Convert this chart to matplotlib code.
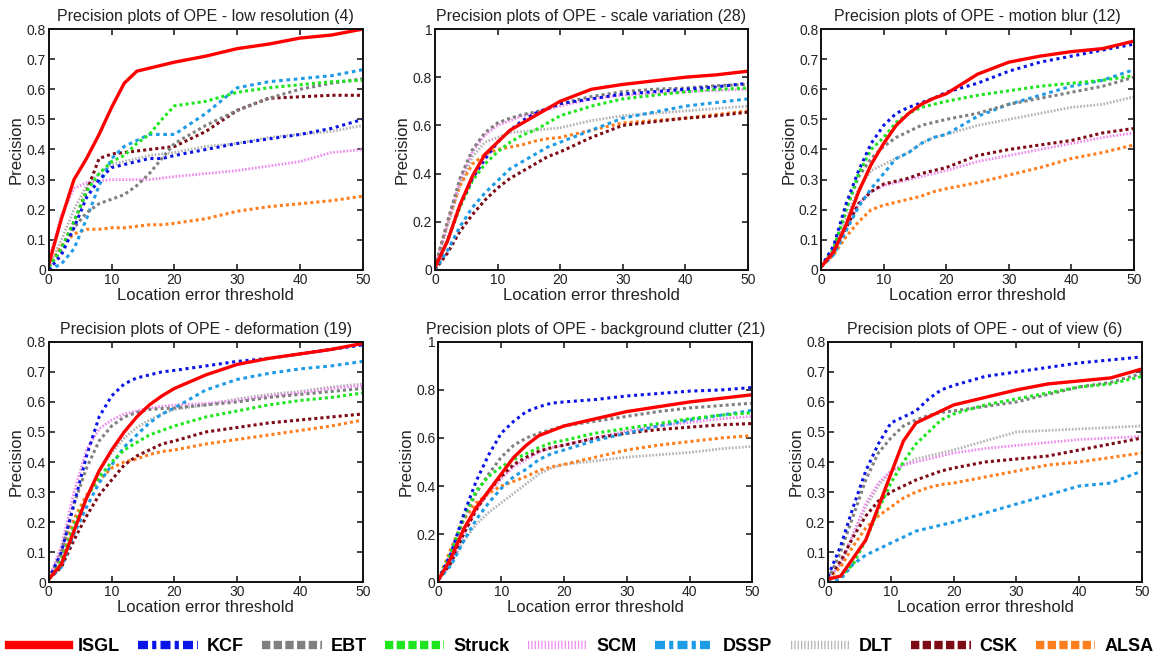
import matplotlib
matplotlib.use("Agg")
import matplotlib.pyplot as plt
from matplotlib.lines import Line2D
from matplotlib.ticker import FuncFormatter

plt.rcParams['font.family'] = ['Liberation Sans', 'DejaVu Sans']

# umbrales de error (eje x comun)
X = [0, 2, 4, 6, 8, 10, 12, 14, 16, 18, 20, 25, 30, 35, 40, 45, 50]

trackers = ['ISGL', 'KCF', 'EBT', 'Struck', 'SCM', 'DSSP', 'DLT', 'CSK', 'ALSA']
colors = ['#ff0000', '#0a14e6', '#808080', '#1ee61e', '#f08cf0',
          '#1e9be6', '#b4b4b4', '#7d0a14', '#ff7f1e']

titles = ['Precision plots of OPE - low resolution (4)',
          'Precision plots of OPE - scale variation (28)',
          'Precision plots of OPE - motion blur (12)',
          'Precision plots of OPE - deformation (19)',
          'Precision plots of OPE - background clutter (21)',
          'Precision plots of OPE - out of view (6)']
ymax = [0.8, 1.0, 0.8, 0.8, 1.0, 0.8]

# low resolution
low_res = {
    'ISGL':   [0.02, 0.17, 0.30, 0.37, 0.45, 0.54, 0.62, 0.66, 0.67, 0.68, 0.69, 0.71, 0.735, 0.75, 0.77, 0.78, 0.80],
    'KCF':    [0.0, 0.05, 0.14, 0.24, 0.30, 0.34, 0.35, 0.36, 0.37, 0.37, 0.38, 0.40, 0.42, 0.435, 0.45, 0.47, 0.50],
    'EBT':    [0.01, 0.07, 0.14, 0.19, 0.22, 0.235, 0.25, 0.28, 0.32, 0.37, 0.42, 0.48, 0.53, 0.57, 0.60, 0.62, 0.635],
    'Struck': [0.01, 0.07, 0.16, 0.26, 0.32, 0.36, 0.38, 0.42, 0.45, 0.50, 0.545, 0.56, 0.59, 0.605, 0.615, 0.625, 0.63],
    'SCM':    [0.03, 0.18, 0.27, 0.29, 0.295, 0.30, 0.30, 0.30, 0.30, 0.305, 0.31, 0.32, 0.33, 0.345, 0.36, 0.39, 0.40],
    'DSSP':   [0.0, 0.02, 0.07, 0.17, 0.28, 0.37, 0.41, 0.43, 0.45, 0.45, 0.45, 0.52, 0.605, 0.625, 0.635, 0.645, 0.665],
    'DLT':    [0.01, 0.10, 0.20, 0.28, 0.32, 0.35, 0.36, 0.37, 0.38, 0.385, 0.39, 0.41, 0.42, 0.44, 0.45, 0.46, 0.48],
    'CSK':    [0.01, 0.07, 0.16, 0.26, 0.37, 0.385, 0.39, 0.395, 0.40, 0.405, 0.41, 0.46, 0.53, 0.57, 0.575, 0.58, 0.58],
    'ALSA':   [0.01, 0.08, 0.12, 0.135, 0.135, 0.14, 0.14, 0.145, 0.15, 0.15, 0.155, 0.17, 0.195, 0.21, 0.22, 0.23, 0.245],
}

# scale variation
scale_var = {
    'ISGL':   [0.01, 0.12, 0.27, 0.39, 0.48, 0.53, 0.58, 0.61, 0.64, 0.67, 0.70, 0.75, 0.77, 0.785, 0.80, 0.81, 0.825],
    'KCF':    [0.01, 0.12, 0.27, 0.38, 0.46, 0.53, 0.58, 0.62, 0.65, 0.67, 0.69, 0.71, 0.73, 0.74, 0.75, 0.76, 0.775],
    'EBT':    [0.01, 0.20, 0.38, 0.50, 0.57, 0.61, 0.63, 0.645, 0.655, 0.67, 0.69, 0.72, 0.74, 0.75, 0.755, 0.765, 0.77],
    'Struck': [0.01, 0.12, 0.26, 0.37, 0.44, 0.49, 0.53, 0.56, 0.58, 0.61, 0.64, 0.68, 0.71, 0.725, 0.74, 0.75, 0.755],
    'SCM':    [0.01, 0.19, 0.37, 0.49, 0.56, 0.60, 0.62, 0.64, 0.65, 0.665, 0.68, 0.71, 0.725, 0.735, 0.74, 0.745, 0.75],
    'DSSP':   [0.0, 0.08, 0.18, 0.26, 0.32, 0.37, 0.42, 0.45, 0.48, 0.51, 0.53, 0.58, 0.63, 0.655, 0.68, 0.695, 0.71],
    'DLT':    [0.01, 0.18, 0.35, 0.47, 0.53, 0.55, 0.57, 0.575, 0.58, 0.585, 0.59, 0.62, 0.64, 0.65, 0.66, 0.67, 0.68],
    'CSK':    [0.0, 0.07, 0.16, 0.23, 0.29, 0.34, 0.38, 0.41, 0.44, 0.47, 0.49, 0.55, 0.60, 0.615, 0.63, 0.64, 0.655],
    'ALSA':   [0.01, 0.20, 0.35, 0.44, 0.48, 0.50, 0.51, 0.52, 0.535, 0.545, 0.55, 0.58, 0.61, 0.62, 0.63, 0.645, 0.66],
}

# motion blur
motion_blur = {
    'ISGL':   [0.01, 0.06, 0.15, 0.26, 0.35, 0.42, 0.48, 0.52, 0.55, 0.57, 0.585, 0.65, 0.69, 0.71, 0.725, 0.735, 0.76],
    'KCF':    [0.01, 0.08, 0.22, 0.33, 0.42, 0.48, 0.52, 0.54, 0.555, 0.57, 0.59, 0.62, 0.66, 0.69, 0.71, 0.73, 0.75],
    'EBT':    [0.01, 0.07, 0.20, 0.31, 0.37, 0.41, 0.44, 0.46, 0.48, 0.49, 0.50, 0.52, 0.55, 0.57, 0.59, 0.61, 0.64],
    'Struck': [0.01, 0.07, 0.20, 0.32, 0.40, 0.44, 0.49, 0.52, 0.54, 0.55, 0.56, 0.58, 0.595, 0.61, 0.62, 0.63, 0.645],
    'SCM':    [0.01, 0.06, 0.14, 0.22, 0.26, 0.28, 0.29, 0.30, 0.31, 0.32, 0.33, 0.36, 0.38, 0.40, 0.42, 0.44, 0.455],
    'DSSP':   [0.01, 0.05, 0.13, 0.21, 0.27, 0.32, 0.37, 0.39, 0.42, 0.44, 0.45, 0.51, 0.55, 0.58, 0.61, 0.63, 0.665],
    'DLT':    [0.01, 0.07, 0.17, 0.27, 0.33, 0.35, 0.37, 0.39, 0.42, 0.44, 0.45, 0.48, 0.50, 0.52, 0.54, 0.55, 0.575],
    'CSK':    [0.01, 0.06, 0.14, 0.22, 0.26, 0.285, 0.295, 0.305, 0.32, 0.33, 0.34, 0.38, 0.40, 0.415, 0.43, 0.455, 0.47],
    'ALSA':   [0.01, 0.05, 0.11, 0.16, 0.20, 0.215, 0.225, 0.235, 0.245, 0.26, 0.27, 0.29, 0.315, 0.34, 0.37, 0.39, 0.415],
}

# deformation
deformation = {
    'ISGL':   [0.01, 0.06, 0.17, 0.28, 0.37, 0.44, 0.50, 0.55, 0.59, 0.62, 0.645, 0.69, 0.725, 0.745, 0.76, 0.775, 0.795],
    'KCF':    [0.01, 0.10, 0.26, 0.42, 0.55, 0.62, 0.66, 0.68, 0.69, 0.70, 0.705, 0.72, 0.735, 0.745, 0.76, 0.775, 0.79],
    'EBT':    [0.01, 0.10, 0.26, 0.38, 0.47, 0.52, 0.55, 0.565, 0.575, 0.578, 0.58, 0.59, 0.60, 0.615, 0.625, 0.635, 0.645],
    'Struck': [0.01, 0.07, 0.19, 0.28, 0.35, 0.40, 0.44, 0.465, 0.49, 0.505, 0.52, 0.55, 0.57, 0.59, 0.605, 0.615, 0.63],
    'SCM':    [0.01, 0.12, 0.30, 0.44, 0.51, 0.54, 0.56, 0.57, 0.58, 0.585, 0.59, 0.595, 0.605, 0.62, 0.63, 0.645, 0.655],
    'DSSP':   [0.01, 0.05, 0.16, 0.25, 0.33, 0.39, 0.45, 0.49, 0.53, 0.56, 0.58, 0.64, 0.675, 0.695, 0.71, 0.72, 0.735],
    'DLT':    [0.01, 0.07, 0.18, 0.28, 0.37, 0.43, 0.48, 0.515, 0.54, 0.56, 0.575, 0.59, 0.61, 0.625, 0.635, 0.65, 0.66],
    'CSK':    [0.01, 0.05, 0.14, 0.22, 0.29, 0.34, 0.39, 0.42, 0.44, 0.46, 0.47, 0.50, 0.515, 0.53, 0.54, 0.55, 0.56],
    'ALSA':   [0.01, 0.09, 0.21, 0.29, 0.34, 0.38, 0.40, 0.41, 0.425, 0.435, 0.44, 0.46, 0.475, 0.49, 0.505, 0.52, 0.54],
}

# background clutter
bg_clutter = {
    'ISGL':   [0.01, 0.10, 0.22, 0.31, 0.38, 0.45, 0.52, 0.57, 0.61, 0.63, 0.65, 0.68, 0.71, 0.73, 0.75, 0.765, 0.78],
    'KCF':    [0.01, 0.12, 0.28, 0.42, 0.53, 0.62, 0.67, 0.71, 0.73, 0.745, 0.75, 0.76, 0.775, 0.785, 0.795, 0.80, 0.81],
    'EBT':    [0.01, 0.12, 0.26, 0.37, 0.45, 0.52, 0.57, 0.60, 0.62, 0.635, 0.65, 0.67, 0.69, 0.71, 0.725, 0.735, 0.745],
    'Struck': [0.01, 0.12, 0.27, 0.38, 0.44, 0.48, 0.51, 0.535, 0.56, 0.58, 0.59, 0.62, 0.64, 0.66, 0.68, 0.695, 0.705],
    'SCM':    [0.01, 0.08, 0.20, 0.30, 0.37, 0.43, 0.48, 0.51, 0.54, 0.56, 0.57, 0.60, 0.63, 0.65, 0.665, 0.68, 0.69],
    'DSSP':   [0.01, 0.07, 0.17, 0.26, 0.33, 0.39, 0.44, 0.47, 0.51, 0.535, 0.55, 0.59, 0.62, 0.65, 0.675, 0.695, 0.715],
    'DLT':    [0.01, 0.08, 0.17, 0.24, 0.29, 0.33, 0.37, 0.41, 0.45, 0.475, 0.49, 0.505, 0.52, 0.53, 0.54, 0.555, 0.565],
    'CSK':    [0.01, 0.08, 0.20, 0.30, 0.38, 0.44, 0.49, 0.52, 0.545, 0.56, 0.57, 0.60, 0.62, 0.635, 0.645, 0.655, 0.66],
    'ALSA':   [0.01, 0.14, 0.26, 0.33, 0.37, 0.40, 0.42, 0.44, 0.465, 0.48, 0.49, 0.52, 0.55, 0.57, 0.585, 0.60, 0.61],
}

# out of view
out_of_view = {
    'ISGL':   [0.01, 0.02, 0.08, 0.14, 0.25, 0.36, 0.47, 0.53, 0.55, 0.57, 0.59, 0.615, 0.64, 0.66, 0.67, 0.68, 0.71],
    'KCF':    [0.02, 0.12, 0.25, 0.37, 0.46, 0.53, 0.55, 0.57, 0.61, 0.64, 0.655, 0.685, 0.70, 0.715, 0.73, 0.74, 0.75],
    'EBT':    [0.01, 0.10, 0.22, 0.34, 0.43, 0.48, 0.52, 0.54, 0.555, 0.565, 0.57, 0.585, 0.60, 0.625, 0.65, 0.665, 0.695],
    'Struck': [0.01, 0.02, 0.06, 0.14, 0.24, 0.33, 0.40, 0.46, 0.50, 0.54, 0.56, 0.59, 0.61, 0.63, 0.65, 0.66, 0.685],
    'SCM':    [0.01, 0.06, 0.16, 0.26, 0.33, 0.37, 0.39, 0.40, 0.41, 0.42, 0.43, 0.445, 0.455, 0.465, 0.475, 0.48, 0.485],
    'DSSP':   [0.0, 0.01, 0.06, 0.09, 0.11, 0.13, 0.15, 0.17, 0.18, 0.19, 0.20, 0.23, 0.26, 0.29, 0.32, 0.33, 0.37],
    'DLT':    [0.01, 0.06, 0.16, 0.25, 0.32, 0.37, 0.39, 0.41, 0.42, 0.43, 0.44, 0.47, 0.50, 0.505, 0.51, 0.515, 0.52],
    'CSK':    [0.01, 0.07, 0.15, 0.22, 0.27, 0.30, 0.32, 0.34, 0.355, 0.37, 0.38, 0.40, 0.41, 0.42, 0.44, 0.46, 0.48],
    'ALSA':   [0.01, 0.05, 0.12, 0.18, 0.22, 0.25, 0.28, 0.30, 0.315, 0.325, 0.33, 0.35, 0.37, 0.39, 0.40, 0.415, 0.43],
}

datasets = [low_res, scale_var, motion_blur, deformation, bg_clutter, out_of_view]

# posiciones de los ejes en fraccion de figura (left, bottom, width, height)
positions = [
    [0.042, 0.591, 0.270, 0.365],
    [0.374, 0.591, 0.269, 0.365],
    [0.706, 0.591, 0.269, 0.365],
    [0.042, 0.118, 0.270, 0.364],
    [0.377, 0.118, 0.270, 0.364],
    [0.712, 0.118, 0.270, 0.364],
]

plot_styles = {
    'ISGL': dict(ls='-', lw=2.4),
    'KCF': dict(ls=(0, (1, 1.2)), lw=2.2),
    'EBT': dict(ls=(0, (1, 1.0)), lw=2.2),
    'Struck': dict(ls=(0, (1, 1.0)), lw=2.2),
    'SCM': dict(ls=(0, (0.6, 0.6)), lw=2.0),
    'DSSP': dict(ls=(0, (1.2, 1.2)), lw=2.2),
    'DLT': dict(ls=(0, (0.6, 0.6)), lw=2.0),
    'CSK': dict(ls=(0, (1, 1.0)), lw=2.2),
    'ALSA': dict(ls=(0, (1, 1.0)), lw=2.2),
}

fig = plt.figure(figsize=(11.63, 6.60), dpi=100)

# dibujar en orden inverso para que ISGL quede encima
draw_order = ['DLT', 'SCM', 'ALSA', 'CSK', 'DSSP', 'EBT', 'Struck', 'KCF', 'ISGL']

for i, data in enumerate(datasets):
    ax = fig.add_axes(positions[i])
    for name in draw_order:
        c = colors[trackers.index(name)]
        ax.plot(X, data[name], color=c, **plot_styles[name])
    ax.set_xlim(0, 50)
    ax.set_ylim(0, ymax[i])
    ax.set_xticks([0, 10, 20, 30, 40, 50])
    if ymax[i] == 1.0:
        ax.set_yticks([0, 0.2, 0.4, 0.6, 0.8, 1.0])
    else:
        ax.set_yticks([0, 0.1, 0.2, 0.3, 0.4, 0.5, 0.6, 0.7, 0.8])
    ax.yaxis.set_major_formatter(FuncFormatter(lambda v, p: '%g' % v))
    ax.tick_params(direction='in', top=True, right=True, length=4, width=1.2,
                   labelsize=10, pad=2, colors='#222222')
    for sp in ax.spines.values():
        sp.set_linewidth(1.4)
        sp.set_color('#111111')
    ax.set_title(titles[i], fontsize=11.5, color='#222222', pad=6)
    ax.set_xlabel('Location error threshold', fontsize=12, color='#222222', labelpad=1)
    ax.set_ylabel('Precision', fontsize=12, color='#222222', labelpad=2)

# leyenda inferior
legend_styles = {
    'ISGL': '-',
    'KCF': (0, (1.2, 0.5, 0.5, 0.5)),
    'EBT': (0, (1.0, 0.4)),
    'Struck': (0, (1.0, 0.4)),
    'SCM': (0, (0.15, 0.25)),
    'DSSP': (0, (1.2, 0.5, 0.5, 0.5)),
    'DLT': (0, (0.15, 0.25)),
    'CSK': (0, (1.0, 0.4)),
    'ALSA': (0, (1.0, 0.4)),
}
handles = [Line2D([0], [0], color=colors[k], lw=6, ls=legend_styles[n])
           for k, n in enumerate(trackers)]
fig.legend(handles, trackers, loc='center', bbox_to_anchor=(0.5, 0.02), ncol=9,
           frameon=False, handlelength=3.3, handletextpad=0.5, columnspacing=1.0,
           prop={'weight': 'bold', 'size': 13})

fig.savefig('out.png', dpi=100)
